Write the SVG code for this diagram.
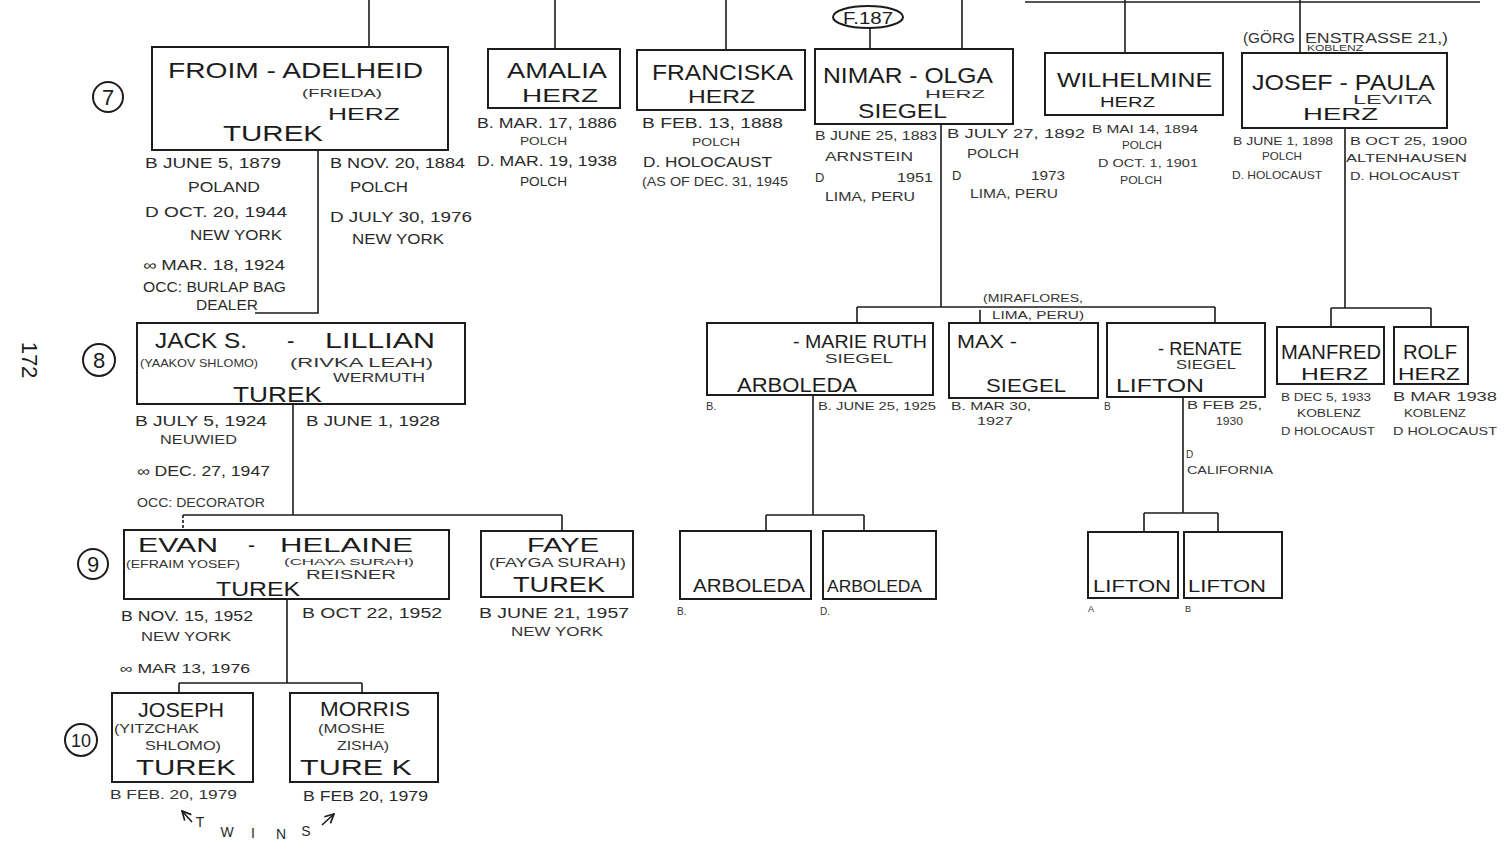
<svg xmlns="http://www.w3.org/2000/svg" width="1510" height="851" viewBox="0 0 1510 851">
<style>
.b{fill:none;stroke:#1c1c1c;stroke-width:2}
.c{fill:none;stroke:#1c1c1c;stroke-width:1.6}
text{font-family:"Liberation Sans",Arial,sans-serif;fill:#1c1c1c}
.L{font-size:22px}
.M{font-size:17px}
.S{font-size:14px;fill:#2a2a2a}
.T{font-size:11px;fill:#333}
.k{font-size:22px;text-anchor:middle}
</style>
<defs>
<marker id="ah" viewBox="0 0 10 10" refX="9" refY="5" markerWidth="7" markerHeight="7" orient="auto"><path d="M1,1 L9,5 L1,9" fill="none" stroke="#1c1c1c" stroke-width="1.5"/></marker>
</defs>
<rect width="1510" height="851" fill="#fff"/>

<g id="connectors">
<path class="c" d="M369,0 V47"/>
<path class="c" d="M555,0 V49"/>
<path class="c" d="M726,0 V50"/>
<path class="c" d="M962,0 V49"/>
<path class="c" d="M1125,0 V53"/>
<path class="c" d="M1300,0 V53"/>
<path class="c" d="M1025,2 H1480" stroke-width="3"/>
<path class="c" d="M870,28 V49"/>
<path class="c" d="M318,150 V313 H255"/>
<path class="c" d="M293,404 V515"/>
<path class="c" d="M183,515 H562 M562,515 V531"/>
<path class="c" d="M183,515 V530" stroke-dasharray="3,2"/>
<path class="c" d="M287,599 V683 M179,683 H362 M179,683 V693 M362,683 V693"/>
<path class="c" d="M941,124 V307 M857,307 H1215 M857,307 V323 M1215,307 V323"/>
<path class="c" d="M980,310 V322"/>
<path class="c" d="M1345,128 V308 M1331,308 H1431 M1331,308 V327 M1431,308 V327"/>
<path class="c" d="M813,395 V515 M766,515 H864 M766,515 V531 M864,515 V531"/>
<path class="c" d="M1183,397 V513 M1144,513 H1218 M1144,513 V532 M1218,513 V532"/>
<path class="c" d="M192,822 L182,811" marker-end="url(#ah)"/>
<path class="c" d="M322,825 L334,814" marker-end="url(#ah)"/>
</g>

<g id="generations">
<circle class="b" cx="108" cy="97" r="15" stroke-width="1.6"/><text class="k" x="108" y="105">7</text>
<circle class="b" cx="99" cy="360" r="16" stroke-width="1.6"/><text class="k" x="99" y="368">8</text>
<circle class="b" cx="93" cy="564" r="15" stroke-width="1.6"/><text class="k" x="93" y="572">9</text>
<circle class="b" cx="81" cy="740" r="16" stroke-width="1.6"/><text class="k" x="81" y="747" style="font-size:18px">10</text>
<text class="L" x="0" y="0" text-anchor="middle" transform="translate(22,360) rotate(90)">172</text>
</g>

<g id="froim-adelheid">
<rect class="b" x="152" y="47" width="296" height="103"/>
<text class="L" x="168" y="78" textLength="255" lengthAdjust="spacingAndGlyphs">FROIM - ADELHEID</text>
<text class="T" x="302" y="97" textLength="80" lengthAdjust="spacingAndGlyphs">(FRIEDA)</text>
<text class="M" x="328" y="120" textLength="72" lengthAdjust="spacingAndGlyphs">HERZ</text>
<text class="L" x="223" y="141" textLength="100" lengthAdjust="spacingAndGlyphs">TUREK</text>
<text class="S" x="145" y="168" textLength="136" lengthAdjust="spacingAndGlyphs">B JUNE 5, 1879</text>
<text class="S" x="188" y="192" textLength="72" lengthAdjust="spacingAndGlyphs">POLAND</text>
<text class="S" x="145" y="217" textLength="142" lengthAdjust="spacingAndGlyphs">D OCT. 20, 1944</text>
<text class="S" x="190" y="240" textLength="92" lengthAdjust="spacingAndGlyphs">NEW YORK</text>
<text class="S" x="143" y="270" textLength="142" lengthAdjust="spacingAndGlyphs">∞ MAR. 18, 1924</text>
<text class="S" x="143" y="292" textLength="143" lengthAdjust="spacingAndGlyphs">OCC: BURLAP BAG</text>
<text class="S" x="196" y="310" textLength="62" lengthAdjust="spacingAndGlyphs">DEALER</text>
<text class="S" x="330" y="168" textLength="135" lengthAdjust="spacingAndGlyphs">B NOV. 20, 1884</text>
<text class="S" x="350" y="192" textLength="58" lengthAdjust="spacingAndGlyphs">POLCH</text>
<text class="S" x="330" y="222" textLength="142" lengthAdjust="spacingAndGlyphs">D JULY 30, 1976</text>
<text class="S" x="352" y="244" textLength="92" lengthAdjust="spacingAndGlyphs">NEW YORK</text>
</g>

<g id="amalia">
<rect class="b" x="488" y="49" width="132" height="59"/>
<text class="L" x="507" y="78" textLength="100" lengthAdjust="spacingAndGlyphs">AMALIA</text>
<text class="L" x="522" y="102" textLength="76" lengthAdjust="spacingAndGlyphs" style="font-size:19px">HERZ</text>
<text class="S" x="477" y="128" textLength="140" lengthAdjust="spacingAndGlyphs">B. MAR. 17, 1886</text>
<text class="T" x="520" y="145" textLength="47" lengthAdjust="spacingAndGlyphs">POLCH</text>
<text class="S" x="477" y="166" textLength="140" lengthAdjust="spacingAndGlyphs">D. MAR. 19, 1938</text>
<text class="S" x="520" y="186" textLength="47" lengthAdjust="spacingAndGlyphs" style="font-size:12px">POLCH</text>
</g>

<g id="franciska">
<rect class="b" x="637" y="50" width="168" height="60"/>
<text class="L" x="652" y="80" textLength="141" lengthAdjust="spacingAndGlyphs">FRANCISKA</text>
<text class="L" x="688" y="103" textLength="67" lengthAdjust="spacingAndGlyphs" style="font-size:19px">HERZ</text>
<text class="S" x="642" y="128" textLength="141" lengthAdjust="spacingAndGlyphs">B  FEB. 13, 1888</text>
<text class="T" x="692" y="146" textLength="48" lengthAdjust="spacingAndGlyphs">POLCH</text>
<text class="S" x="643" y="167" textLength="129" lengthAdjust="spacingAndGlyphs">D. HOLOCAUST</text>
<text class="T" x="642" y="186" textLength="146" lengthAdjust="spacingAndGlyphs" style="font-size:12px">(AS OF DEC. 31, 1945</text>
</g>

<g id="nimar-olga">
<ellipse class="b" cx="868" cy="17" rx="35" ry="11" stroke-width="1.6"/>
<text class="M" x="868" y="24" text-anchor="middle" textLength="50" lengthAdjust="spacingAndGlyphs">F.187</text>
<rect class="b" x="815" y="49" width="198" height="75"/>
<text class="L" x="823" y="83" textLength="170" lengthAdjust="spacingAndGlyphs">NIMAR - OLGA</text>
<text class="T" x="925" y="98" textLength="60" lengthAdjust="spacingAndGlyphs">HERZ</text>
<text class="L" x="858" y="118" textLength="89" lengthAdjust="spacingAndGlyphs" style="font-size:20px">SIEGEL</text>
<text class="T" x="815" y="140" textLength="122" lengthAdjust="spacingAndGlyphs" style="font-size:13px">B JUNE 25, 1883</text>
<text class="T" x="825" y="161" textLength="88" lengthAdjust="spacingAndGlyphs" style="font-size:13px">ARNSTEIN</text>
<text class="T" x="815" y="182" style="font-size:13px">D</text>
<text class="T" x="897" y="182" textLength="36" lengthAdjust="spacingAndGlyphs" style="font-size:13px">1951</text>
<text class="T" x="825" y="201" textLength="90" lengthAdjust="spacingAndGlyphs" style="font-size:13px">LIMA, PERU</text>
<text class="T" x="947" y="138" textLength="138" lengthAdjust="spacingAndGlyphs" style="font-size:13px">B JULY 27, 1892</text>
<text class="T" x="967" y="158" textLength="52" lengthAdjust="spacingAndGlyphs" style="font-size:13px">POLCH</text>
<text class="T" x="952" y="180" style="font-size:13px">D</text>
<text class="T" x="1031" y="180" textLength="34" lengthAdjust="spacingAndGlyphs" style="font-size:13px">1973</text>
<text class="T" x="970" y="198" textLength="88" lengthAdjust="spacingAndGlyphs" style="font-size:13px">LIMA, PERU</text>
</g>

<g id="wilhelmine">
<rect class="b" x="1045" y="53" width="178" height="62"/>
<text class="L" x="1057" y="87" textLength="155" lengthAdjust="spacingAndGlyphs" style="font-size:21px">WILHELMINE</text>
<text class="M" x="1100" y="107" textLength="55" lengthAdjust="spacingAndGlyphs" style="font-size:15px">HERZ</text>
<text class="T" x="1092" y="133" textLength="106" lengthAdjust="spacingAndGlyphs">B MAI 14, 1894</text>
<text class="T" x="1122" y="149" textLength="40" lengthAdjust="spacingAndGlyphs">POLCH</text>
<text class="T" x="1098" y="167" textLength="100" lengthAdjust="spacingAndGlyphs">D OCT. 1, 1901</text>
<text class="T" x="1120" y="184" textLength="42" lengthAdjust="spacingAndGlyphs">POLCH</text>
</g>

<g id="josef-paula">
<text class="T" x="1243" y="43" textLength="52" lengthAdjust="spacingAndGlyphs" style="font-size:14px">(GÖRG</text>
<text class="T" x="1305" y="43" textLength="143" lengthAdjust="spacingAndGlyphs" style="font-size:14px">ENSTRASSE 21,)</text>
<text class="T" x="1307" y="51" textLength="56" lengthAdjust="spacingAndGlyphs" style="font-size:9px">KOBLENZ</text>
<rect class="b" x="1242" y="53" width="205" height="75"/>
<text class="L" x="1252" y="90" textLength="183" lengthAdjust="spacingAndGlyphs">JOSEF - PAULA</text>
<text class="T" x="1353" y="104" textLength="79" lengthAdjust="spacingAndGlyphs" style="font-size:13px">LEVITA</text>
<text class="M" x="1303" y="120" textLength="75" lengthAdjust="spacingAndGlyphs">HERZ</text>
<text class="T" x="1233" y="145" textLength="100" lengthAdjust="spacingAndGlyphs">B JUNE 1, 1898</text>
<text class="T" x="1262" y="160" textLength="40" lengthAdjust="spacingAndGlyphs">POLCH</text>
<text class="T" x="1232" y="179" textLength="90" lengthAdjust="spacingAndGlyphs">D. HOLOCAUST</text>
<text class="T" x="1350" y="145" textLength="117" lengthAdjust="spacingAndGlyphs">B OCT 25, 1900</text>
<text class="T" x="1346" y="162" textLength="121" lengthAdjust="spacingAndGlyphs">ALTENHAUSEN</text>
<text class="T" x="1350" y="180" textLength="110" lengthAdjust="spacingAndGlyphs">D. HOLOCAUST</text>
</g>

<g id="jack-lillian">
<rect class="b" x="137" y="323" width="328" height="81"/>
<text class="L" x="155" y="348" textLength="92" lengthAdjust="spacingAndGlyphs">JACK S.</text>
<text class="L" x="287" y="348">-</text>
<text class="L" x="325" y="348" textLength="110" lengthAdjust="spacingAndGlyphs">LILLIAN</text>
<text class="T" x="140" y="367" textLength="118" lengthAdjust="spacingAndGlyphs">(YAAKOV SHLOMO)</text>
<text class="T" x="290" y="367" textLength="143" lengthAdjust="spacingAndGlyphs" style="font-size:12px">(RIVKA LEAH)</text>
<text class="T" x="333" y="382" textLength="92" lengthAdjust="spacingAndGlyphs" style="font-size:12px">WERMUTH</text>
<text class="L" x="233" y="402" textLength="89" lengthAdjust="spacingAndGlyphs">TUREK</text>
<text class="S" x="135" y="426" textLength="132" lengthAdjust="spacingAndGlyphs">B JULY 5, 1924</text>
<text class="T" x="160" y="444" textLength="77" lengthAdjust="spacingAndGlyphs" style="font-size:12px">NEUWIED</text>
<text class="S" x="137" y="476" textLength="133" lengthAdjust="spacingAndGlyphs">∞ DEC. 27, 1947</text>
<text class="T" x="137" y="507" textLength="128" lengthAdjust="spacingAndGlyphs" style="font-size:12px">OCC: DECORATOR</text>
<text class="S" x="306" y="426" textLength="134" lengthAdjust="spacingAndGlyphs">B JUNE 1, 1928</text>
</g>

<g id="evan-helaine">
<rect class="b" x="124" y="530" width="325" height="69"/>
<text class="L" x="138" y="552" textLength="80" lengthAdjust="spacingAndGlyphs" style="font-size:21px">EVAN</text>
<text class="L" x="248" y="552" style="font-size:21px">-</text>
<text class="L" x="280" y="552" textLength="133" lengthAdjust="spacingAndGlyphs" style="font-size:21px">HELAINE</text>
<text class="T" x="126" y="568" textLength="114" lengthAdjust="spacingAndGlyphs" style="font-size:10px">(EFRAIM YOSEF)</text>
<text class="T" x="284" y="565" textLength="130" lengthAdjust="spacingAndGlyphs" style="font-size:9px">(CHAYA SURAH)</text>
<text class="T" x="306" y="579" textLength="90" lengthAdjust="spacingAndGlyphs" style="font-size:13px">REISNER</text>
<text class="L" x="216" y="596" textLength="84" lengthAdjust="spacingAndGlyphs" style="font-size:20px">TUREK</text>
<text class="S" x="121" y="621" textLength="132" lengthAdjust="spacingAndGlyphs">B NOV. 15, 1952</text>
<text class="T" x="141" y="641" textLength="90" lengthAdjust="spacingAndGlyphs" style="font-size:12px">NEW YORK</text>
<text class="S" x="302" y="618" textLength="140" lengthAdjust="spacingAndGlyphs">B OCT 22, 1952</text>
<text class="S" x="120" y="673" textLength="130" lengthAdjust="spacingAndGlyphs" style="font-size:13px">∞ MAR 13, 1976</text>
</g>

<g id="faye">
<rect class="b" x="481" y="531" width="152" height="66"/>
<text class="L" x="527" y="552" textLength="72" lengthAdjust="spacingAndGlyphs" style="font-size:20px">FAYE</text>
<text class="T" x="489" y="567" textLength="137" lengthAdjust="spacingAndGlyphs" style="font-size:12px">(FAYGA SURAH)</text>
<text class="L" x="513" y="592" textLength="92" lengthAdjust="spacingAndGlyphs">TUREK</text>
<text class="S" x="479" y="618" textLength="150" lengthAdjust="spacingAndGlyphs">B JUNE 21, 1957</text>
<text class="T" x="511" y="636" textLength="92" lengthAdjust="spacingAndGlyphs" style="font-size:12px">NEW YORK</text>
</g>

<g id="joseph">
<rect class="b" x="112" y="693" width="141" height="89"/>
<text class="L" x="138" y="717" textLength="86" lengthAdjust="spacingAndGlyphs" style="font-size:20px">JOSEPH</text>
<text class="T" x="114" y="733" textLength="85" lengthAdjust="spacingAndGlyphs" style="font-size:12px">(YITZCHAK</text>
<text class="T" x="145" y="750" textLength="76" lengthAdjust="spacingAndGlyphs" style="font-size:12px">SHLOMO)</text>
<text class="L" x="136" y="775" textLength="100" lengthAdjust="spacingAndGlyphs">TUREK</text>
<text class="T" x="110" y="799" textLength="127" lengthAdjust="spacingAndGlyphs" style="font-size:13px">B FEB. 20, 1979</text>
</g>

<g id="morris">
<rect class="b" x="290" y="693" width="148" height="89"/>
<text class="L" x="320" y="716" textLength="90" lengthAdjust="spacingAndGlyphs" style="font-size:20px">MORRIS</text>
<text class="T" x="318" y="733" textLength="67" lengthAdjust="spacingAndGlyphs" style="font-size:12px">(MOSHE</text>
<text class="T" x="337" y="750" textLength="52" lengthAdjust="spacingAndGlyphs" style="font-size:12px">ZISHA)</text>
<text class="L" x="300" y="775" textLength="112" lengthAdjust="spacingAndGlyphs">TURE K</text>
<text class="S" x="303" y="801" textLength="125" lengthAdjust="spacingAndGlyphs">B FEB 20, 1979</text>
</g>

<g id="twins">
<text class="S" x="200" y="827" text-anchor="middle">T</text>
<text class="S" x="227" y="837" text-anchor="middle">W</text>
<text class="S" x="253" y="838" text-anchor="middle">I</text>
<text class="S" x="281" y="839" text-anchor="middle">N</text>
<text class="S" x="306" y="836" text-anchor="middle">S</text>
</g>

<g id="marie-ruth">
<rect class="b" x="707" y="323" width="226" height="72"/>
<text class="L" x="793" y="348" textLength="134" lengthAdjust="spacingAndGlyphs" style="font-size:19px">- MARIE RUTH</text>
<text class="T" x="825" y="363" textLength="68" lengthAdjust="spacingAndGlyphs" style="font-size:13px">SIEGEL</text>
<text class="L" x="737" y="392" textLength="120" lengthAdjust="spacingAndGlyphs" style="font-size:20px">ARBOLEDA</text>
<text class="T" x="706" y="410">B.</text>
<text class="T" x="818" y="410" textLength="118" lengthAdjust="spacingAndGlyphs">B. JUNE 25, 1925</text>
</g>

<g id="max">
<rect class="b" x="949" y="323" width="149" height="75"/>
<text class="L" x="957" y="348" textLength="60" lengthAdjust="spacingAndGlyphs" style="font-size:19px">MAX -</text>
<text class="L" x="986" y="392" textLength="80" lengthAdjust="spacingAndGlyphs" style="font-size:19px">SIEGEL</text>
<text class="T" x="951" y="410" textLength="80" lengthAdjust="spacingAndGlyphs">B. MAR 30,</text>
<text class="T" x="977" y="425" textLength="36" lengthAdjust="spacingAndGlyphs">1927</text>
<text class="T" x="983" y="302" textLength="100" lengthAdjust="spacingAndGlyphs" style="font-size:10px">(MIRAFLORES,</text>
<text class="T" x="992" y="319" textLength="92" lengthAdjust="spacingAndGlyphs" style="font-size:10px">LIMA, PERU)</text>
</g>

<g id="renate">
<rect class="b" x="1107" y="323" width="158" height="74"/>
<text class="L" x="1158" y="355" textLength="84" lengthAdjust="spacingAndGlyphs" style="font-size:18px">- RENATE</text>
<text class="T" x="1176" y="369" textLength="60" lengthAdjust="spacingAndGlyphs" style="font-size:12px">SIEGEL</text>
<text class="L" x="1116" y="392" textLength="88" lengthAdjust="spacingAndGlyphs" style="font-size:19px">LIFTON</text>
<text class="T" x="1104" y="410" style="font-size:10px">B</text>
<text class="T" x="1187" y="409" textLength="75" lengthAdjust="spacingAndGlyphs" style="font-size:10px">B FEB 25,</text>
<text class="T" x="1216" y="425" textLength="27" lengthAdjust="spacingAndGlyphs" style="font-size:10px">1930</text>
<text class="T" x="1186" y="458" style="font-size:10px">D</text>
<text class="T" x="1187" y="474" textLength="86" lengthAdjust="spacingAndGlyphs" style="font-size:10px">CALIFORNIA</text>
</g>

<g id="manfred">
<rect class="b" x="1277" y="327" width="107" height="57"/>
<text class="L" x="1281" y="359" textLength="100" lengthAdjust="spacingAndGlyphs" style="font-size:20px">MANFRED</text>
<text class="M" x="1301" y="380" textLength="67" lengthAdjust="spacingAndGlyphs">HERZ</text>
<text class="T" x="1281" y="401" textLength="90" lengthAdjust="spacingAndGlyphs" style="font-size:10px">B DEC 5, 1933</text>
<text class="T" x="1297" y="417" textLength="64" lengthAdjust="spacingAndGlyphs" style="font-size:10px">KOBLENZ</text>
<text class="T" x="1281" y="435" textLength="94" lengthAdjust="spacingAndGlyphs" style="font-size:10px">D HOLOCAUST</text>
</g>

<g id="rolf">
<rect class="b" x="1394" y="327" width="74" height="57"/>
<text class="L" x="1403" y="359" textLength="54" lengthAdjust="spacingAndGlyphs" style="font-size:20px">ROLF</text>
<text class="M" x="1398" y="380" textLength="62" lengthAdjust="spacingAndGlyphs">HERZ</text>
<text class="T" x="1393" y="401" textLength="104" lengthAdjust="spacingAndGlyphs" style="font-size:12px">B MAR 1938</text>
<text class="T" x="1404" y="417" textLength="62" lengthAdjust="spacingAndGlyphs" style="font-size:11px">KOBLENZ</text>
<text class="T" x="1393" y="435" textLength="104" lengthAdjust="spacingAndGlyphs" style="font-size:11px">D HOLOCAUST</text>
</g>

<g id="arboleda-1">
<rect class="b" x="680" y="531" width="131" height="68"/>
<text class="L" x="693" y="592" textLength="112" lengthAdjust="spacingAndGlyphs" style="font-size:18px">ARBOLEDA</text>
<text class="T" x="677" y="615" style="font-size:10px">B.</text>
</g>
<g id="arboleda-2">
<rect class="b" x="823" y="531" width="113" height="68"/>
<text class="L" x="827" y="592" textLength="95" lengthAdjust="spacingAndGlyphs" style="font-size:17px">ARBOLEDA</text>
<text class="T" x="820" y="615" style="font-size:10px">D.</text>
</g>
<g id="lifton-1">
<rect class="b" x="1088" y="532" width="90" height="66"/>
<text class="L" x="1093" y="592" textLength="78" lengthAdjust="spacingAndGlyphs" style="font-size:17px">LIFTON</text>
<text class="T" x="1088" y="612" style="font-size:9px">A</text>
</g>
<g id="lifton-2">
<rect class="b" x="1184" y="532" width="98" height="66"/>
<text class="L" x="1188" y="592" textLength="78" lengthAdjust="spacingAndGlyphs" style="font-size:17px">LIFTON</text>
<text class="T" x="1185" y="612" style="font-size:9px">B</text>
</g>
</svg>
